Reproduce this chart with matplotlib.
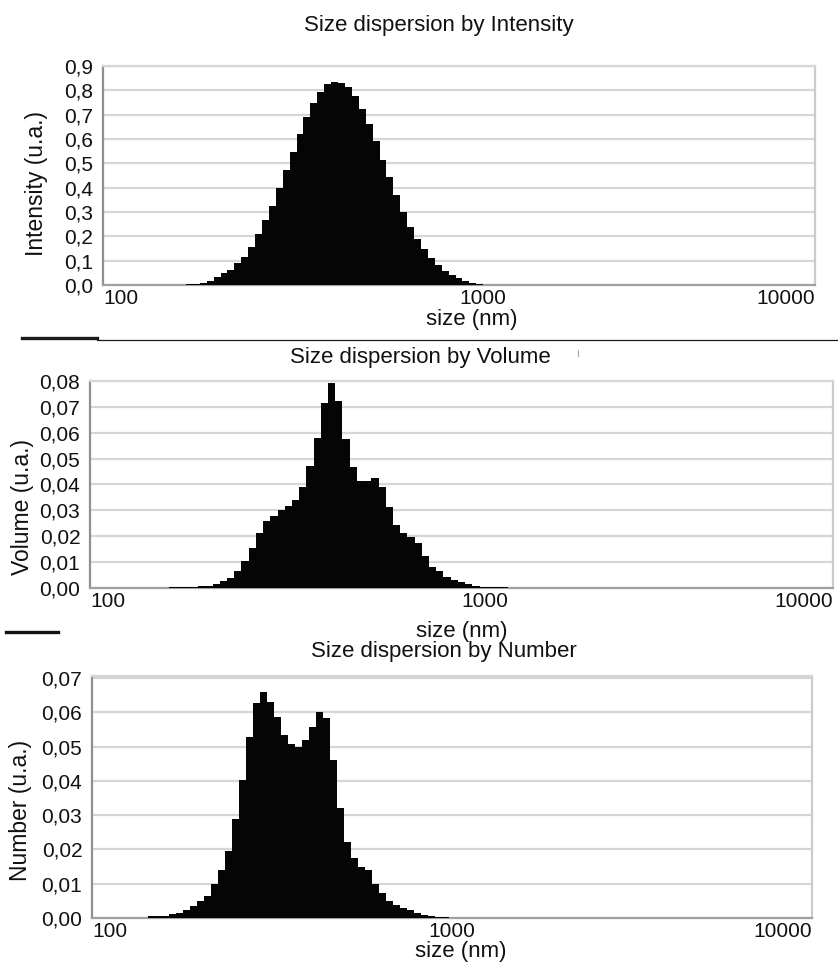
import numpy as np
import matplotlib.pyplot as plt
from matplotlib.lines import Line2D
from matplotlib.ticker import NullLocator

plt.rcParams['font.family'] = ['Liberation Sans', 'DejaVu Sans']

# instrument size classes: log-spaced bins from 100 nm to 10000 nm
size_edges = np.logspace(2, 4, 104)

# distributions (first non-empty class + values)
intensity_start = 10
intensity = [0.001, 0.002, 0.003, 0.005, 0.010, 0.018, 0.031, 0.048, 0.062, 0.089,
             0.116, 0.158, 0.210, 0.267, 0.326, 0.397, 0.473, 0.548, 0.620, 0.689,
             0.749, 0.795, 0.826, 0.836, 0.832, 0.815, 0.777, 0.722, 0.662, 0.592,
             0.514, 0.445, 0.370, 0.301, 0.240, 0.190, 0.147, 0.110, 0.082, 0.059,
             0.041, 0.027, 0.016, 0.010, 0.004, 0.002, 0.002, 0.001]

volume_start = 11
volume = [0.0002, 0.0003, 0.0004, 0.0005, 0.0007, 0.0009, 0.0015, 0.0026, 0.0039, 0.0067,
          0.0106, 0.0154, 0.0213, 0.0258, 0.0280, 0.0300, 0.0318, 0.0341, 0.0390, 0.0470,
          0.0578, 0.0716, 0.0791, 0.0724, 0.0575, 0.0468, 0.0412, 0.0412, 0.0426, 0.0390,
          0.0313, 0.0244, 0.0212, 0.0199, 0.0173, 0.0125, 0.0080, 0.0067, 0.0044, 0.0031,
          0.0022, 0.0015, 0.0009, 0.0005, 0.0003, 0.0002, 0.0002, 0.0001, 0.0001, 0.0001]

number_start = 8
number = [0.0005, 0.0005, 0.0007, 0.0012, 0.0015, 0.0022, 0.0034, 0.0051, 0.0063, 0.0100,
          0.0139, 0.0196, 0.0288, 0.0403, 0.0527, 0.0626, 0.0660, 0.0631, 0.0585, 0.0534,
          0.0508, 0.0498, 0.0520, 0.0558, 0.0602, 0.0583, 0.0461, 0.0320, 0.0223, 0.0175,
          0.0149, 0.0139, 0.0100, 0.0073, 0.0050, 0.0038, 0.0030, 0.0023, 0.0016, 0.0008,
          0.0005, 0.0002, 0.0002, 0.0001]

x_ticks = [100, 1000, 10000]
x_tick_labels = ['100', '1000', '10000']

int_ticks = [0.0, 0.1, 0.2, 0.3, 0.4, 0.5, 0.6, 0.7, 0.8, 0.9]
int_labels = ['0,0', '0,1', '0,2', '0,3', '0,4', '0,5', '0,6', '0,7', '0,8', '0,9']
vol_ticks = [0.00, 0.01, 0.02, 0.03, 0.04, 0.05, 0.06, 0.07, 0.08]
vol_labels = ['0,00', '0,01', '0,02', '0,03', '0,04', '0,05', '0,06', '0,07', '0,08']
num_ticks = [0.00, 0.01, 0.02, 0.03, 0.04, 0.05, 0.06, 0.07]
num_labels = ['0,00', '0,01', '0,02', '0,03', '0,04', '0,05', '0,06', '0,07']

W, H = 838, 966
fig = plt.figure(figsize=(W / 100, H / 100), dpi=100)


def px(x, y):
    return x / W, 1 - y / H


def full(start, vals):
    arr = np.zeros(len(size_edges) - 1)
    arr[start:start + len(vals)] = vals
    return arr


def panel(box, start, vals, ymax, yt, ylab, tick_ha):
    l, t, r, b = box
    ax = fig.add_axes([l / W, 1 - b / H, (r - l) / W, (b - t) / H])
    ax.stairs(full(start, vals), size_edges, fill=True, color='#050505', zorder=3)
    ax.set_xscale('log')
    ax.set_xlim(100, 10000)
    ax.set_ylim(0, ymax)
    ax.set_xticks(x_ticks)
    ax.set_xticklabels(x_tick_labels)
    ax.xaxis.set_minor_locator(NullLocator())
    ax.set_yticks(yt)
    ax.set_yticklabels(ylab)
    ax.tick_params(length=0, labelsize=15, labelcolor='#111111')
    ax.tick_params(axis='y', pad=7)
    ax.tick_params(axis='x', pad=3)
    for lab, ha in zip(ax.get_xticklabels(), tick_ha):
        lab.set_ha(ha)
    ax.yaxis.grid(True, color='#d6d6d6', lw=1.6)
    ax.set_axisbelow(True)
    ax.spines['left'].set_color('#8f8f8f')
    ax.spines['bottom'].set_color('#a0a0a0')
    ax.spines['right'].set_color('#cccccc')
    ax.spines['top'].set_color('#d6d6d6')
    for s in ax.spines.values():
        s.set_linewidth(1.6)
    return ax


panel((103, 66, 815, 285), intensity_start, intensity, 0.9, int_ticks, int_labels,
      ['left', 'left', 'right'])
panel((90, 381, 833, 588), volume_start, volume, 0.08, vol_ticks, vol_labels,
      ['left', 'left', 'right'])
panel((92, 676, 812, 918), number_start, number, 0.0706, num_ticks, num_labels,
      ['left', 'center', 'right'])

# titles, axis labels
for x, y, s in [(439, 25, 'Size dispersion by Intensity'),
                (420, 357, 'Size dispersion by Volume'),
                (444, 652, 'Size dispersion by Number')]:
    fig.text(*px(x, y), s, ha='center', va='center', fontsize=16, color='#111111')

for x, y in [(472, 320), (462, 631), (461, 952)]:
    fig.text(*px(x, y), 'size (nm)', ha='center', va='center', fontsize=16, color='#111111')

for x, y, s in [(36, 183, 'Intensity (u.a.)'), (22, 507, 'Volume (u.a.)'), (20, 810, 'Number (u.a.)')]:
    fig.text(*px(x, y), s, ha='center', va='center', rotation=90, fontsize=16.5, color='#111111')

# separators left over from the original layout
fig.add_artist(Line2D([22 / W, 97 / W], [1 - 338 / H] * 2, color='#1a1a1a', lw=2.4))
fig.add_artist(Line2D([97 / W, 1.0], [1 - 340 / H] * 2, color='#1a1a1a', lw=0.9))
fig.add_artist(Line2D([578 / W] * 2, [1 - 350 / H, 1 - 356 / H], color='#aaaaaa', lw=0.8))
fig.add_artist(Line2D([6 / W, 58 / W], [1 - 632 / H] * 2, color='#111111', lw=2.4))

fig.savefig('out.png', dpi=100)
